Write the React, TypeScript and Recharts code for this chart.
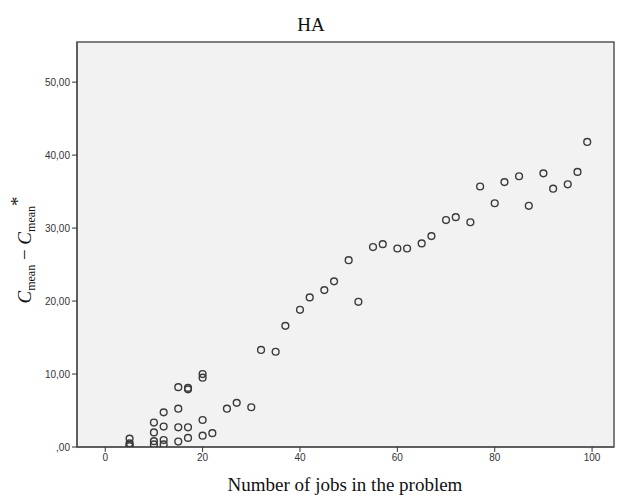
import { ReferenceArea, Scatter, ScatterChart, XAxis, YAxis } from "recharts";

const jobs = [
  5, 5, 5, 5, 10, 10, 10, 10, 12, 12, 12, 12, 15, 15, 15, 15, 17, 17, 17, 17,
  20, 20, 20, 20, 22, 25, 27, 30, 32, 35, 37, 40, 42, 45, 47, 50, 52, 55, 57,
  60, 62, 65, 67, 70, 72, 75, 77, 80, 82, 85, 87, 90, 92, 95, 97, 99,
];
const gap = [
  1.15, 0.5, 0.3, 0.1, 3.35, 2.0, 0.8, 0.35, 4.75, 2.8, 0.95, 0.35, 8.2, 5.25,
  2.7, 0.75, 8.1, 7.9, 2.7, 1.25, 10.0, 9.5, 3.7, 1.55, 1.9, 5.25, 6.05, 5.45,
  13.3, 13.05, 16.6, 18.8, 20.5, 21.5, 22.7, 25.6, 19.9, 27.4, 27.8, 27.2,
  27.2, 27.9, 28.9, 31.1, 31.5, 30.8, 35.7, 33.4, 36.3, 37.1, 33.05, 37.5,
  35.4, 36.0, 37.7, 41.8,
];
const xTicks = [0, 20, 40, 60, 80, 100];
const yTicks = [0, 10, 20, 30, 40, 50];

const data = jobs.map((x, i) => ({ x, y: gap[i] }));

const X_DOMAIN: [number, number] = [-5.8, 104.5];
const Y_DOMAIN: [number, number] = [0, 55.5];

const serif = "Liberation Serif, Times New Roman, serif";
const tickStyle = { fill: "#333", fontSize: 10, fontFamily: "Liberation Sans, Arial, sans-serif" };

function formatY(v: number) {
  return v === 0 ? ",00" : v.toFixed(2).replace(".", ",");
}

function Ring(props: any) {
  const { cx, cy } = props;
  return <circle cx={cx} cy={cy} r={3.4} fill="none" stroke="#3a3a3a" strokeWidth={1.4} />;
}

// C_mean − C_mean* , rotated, with italic C and small subscripts
function YLabel() {
  return (
    <text
      x={0}
      y={0}
      transform="translate(31, 250) rotate(-90)"
      textAnchor="middle"
      fontFamily={serif}
      fontSize={19}
      fill="#111"
    >
      <tspan fontStyle="italic">C</tspan>
      <tspan fontSize={12} dy={4}>mean</tspan>
      <tspan dy={-4}> − </tspan>
      <tspan fontStyle="italic">C</tspan>
      <tspan fontSize={12} dy={4}>mean</tspan>
      <tspan dy={-11}>*</tspan>
    </text>
  );
}

export default function App() {
  return (
    <div style={{ position: "absolute", left: 0, top: 0, width: 618, height: 499, background: "#fff" }}>
      <ScatterChart width={618} height={499} margin={{ top: 42, right: 4, left: 17, bottom: 22 }}>
        <ReferenceArea
          x1={X_DOMAIN[0]}
          x2={X_DOMAIN[1]}
          y1={Y_DOMAIN[0]}
          y2={Y_DOMAIN[1]}
          fill="#f2f2f2"
          fillOpacity={1}
          stroke="#555"
          strokeWidth={1.5}
        />
        <XAxis
          type="number"
          dataKey="x"
          domain={X_DOMAIN}
          ticks={xTicks}
          height={30}
          allowDataOverflow
          axisLine={{ stroke: "#555", strokeWidth: 1.5 }}
          tickLine={{ stroke: "#333" }}
          tickSize={5}
          tick={tickStyle}
        />
        <YAxis
          type="number"
          dataKey="y"
          domain={Y_DOMAIN}
          ticks={yTicks}
          width={60}
          allowDataOverflow
          axisLine={{ stroke: "#555", strokeWidth: 1.5 }}
          tickLine={{ stroke: "#333" }}
          tickSize={5}
          tick={tickStyle}
          tickFormatter={formatY}
        />
        <Scatter data={data} shape={<Ring />} isAnimationActive={false} />
        <text x={311} y={31} textAnchor="middle" fontFamily={serif} fontSize={19} fill="#111">
          HA
        </text>
        <text x={345} y={491} textAnchor="middle" fontFamily={serif} fontSize={19} fill="#111">
          Number of jobs in the problem
        </text>
        <YLabel />
      </ScatterChart>
    </div>
  );
}
